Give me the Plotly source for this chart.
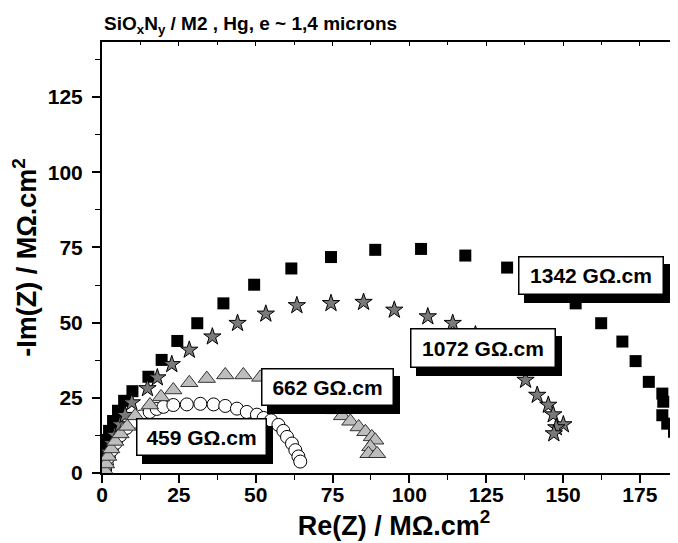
import plotly.graph_objects as go

# --- data (Re(Z), -Im(Z) in MOhm.cm2) ---
sq_x = [0.3, 0.3, 0.3, 0.65, 1.3, 2.3, 3.6, 5.2, 7.2, 9.9, 15.1, 19.4, 24.5, 31.0, 39.5,
        49.5, 61.6, 74.5, 88.9, 103.8, 118.2, 131.8, 143.5, 154.1, 162.4, 169.3, 173.6,
        177.9, 182.3, 182.6, 182.3, 183.9, 186.1]
sq_y = [1, 3, 5.3, 8, 11, 14, 17.3, 20.7, 24, 27.2, 32, 37.6, 43.9, 49.8, 56.4,
        62.6, 68, 71.8, 74.2, 74.5, 72.3, 68.3, 63, 56.4, 49.8, 43.7, 37.2,
        30.3, 26.4, 23.7, 19.2, 16.4, 13.7]

st_x = [1.0, 1.5, 2.1, 3.2, 4.2, 5.9, 7.5, 9.7, 14.8, 18.0, 22.7, 28.4, 35.9, 44.1, 53.3,
        63.4, 74.5, 85.1, 95.1, 106.0, 114.1, 121.5, 128.7, 133.6, 137.8, 141.6, 145.2,
        146.8, 150.1, 147.8, 147.0]
st_y = [2, 4.2, 7, 9.8, 12.6, 16.1, 19.2, 23.4, 28.1, 31.7, 36.1, 40.9, 45.3, 49.8, 52.9,
        55.7, 56.4, 56.8, 54.2, 52, 49.8, 46, 40.3, 36, 30.9, 25.9, 22.6,
        19.4, 16.1, 15.1, 13.1]

tr_x = [0.8, 1.3, 2.0, 3.0, 4.3, 6.0, 8.2, 10.8, 15.6, 19.2, 23.2, 28.4, 34.1, 40.1, 46.0,
        51.5, 57.0, 62.5, 67.5, 72.0, 75.5, 78.1, 80.8, 83.5, 85.7, 87.8, 88.9, 87.3,
        86.7, 89.5]
tr_y = [1, 3, 5.5, 8, 10.5, 13, 15.5, 19, 22.6, 25.3, 27.6, 30, 31.4, 32.6, 32.6,
        31.8, 30.5, 28.5, 26, 23.5, 21, 19, 17.2, 15.3, 13.7, 12, 10.9, 8.7,
        6.4, 6.4]

ci_x = [1.0, 1.5, 2.2, 3.2, 4.5, 6.0, 8.0, 10.3, 12.8, 15.5, 17.8, 20.0, 23.2, 27.6, 32.0,
        36.3, 40.1, 43.9, 47.1, 50.4, 52.6, 55.0, 57.4, 59.0, 60.2, 61.8, 62.9, 63.9, 64.5]
ci_y = [1, 3, 5.3, 7.6, 10, 12.5, 15, 17, 18.8, 20.3, 21.3, 22, 22.6, 22.8, 23,
        22.8, 22.3, 21.4, 20.3, 19.4, 18.3, 17.5, 16, 14, 12, 9.8, 7.6, 5.5, 3.8]

labels = ["1342 GΩ.cm", "1072 GΩ.cm", "662 GΩ.cm", "459 GΩ.cm"]
label_x = [159.2, 123.9, 73.5, 32.5]
label_y = [65.6, 41.6, 28.7, 11.9]
label_w = [141, 141, 128, 126]
label_h = [34, 35, 33, 33]

xticks = [0, 25, 50, 75, 100, 125, 150, 175]
yticks = [0, 25, 50, 75, 100, 125]

FONT = "Liberation Sans, Arial, sans-serif"

fig = go.Figure()
fig.add_trace(go.Scatter(x=sq_x, y=sq_y, mode="markers",
                         marker=dict(symbol="square", size=12, color="black",
                                     line=dict(width=0))))
fig.add_trace(go.Scatter(x=st_x, y=st_y, mode="markers",
                         marker=dict(symbol="star", size=13, color="#7a7a7a",
                                     line=dict(width=1, color="black"))))
fig.add_trace(go.Scatter(x=ci_x, y=ci_y, mode="markers",
                         marker=dict(symbol="circle", size=13, color="white",
                                     line=dict(width=1, color="black"))))
fig.add_trace(go.Scatter(x=tr_x, y=tr_y, mode="markers",
                         marker=dict(symbol="triangle-up", size=15, color="#bdbdbd",
                                     line=dict(width=1, color="#333333"))))
# dummy trace so the top (mirror) axis gets drawn
fig.add_trace(go.Scatter(x=[], y=[], xaxis="x2", showlegend=False))

anns = []
for t, x, y, w, h in zip(labels, label_x, label_y, label_w, label_h):
    # drop shadow first, then the white box on top
    anns.append(dict(x=x, y=y, xref="x", yref="y", text="<b>%s</b>" % t, showarrow=False,
                     font=dict(family=FONT, size=21, color="black"), bgcolor="black",
                     bordercolor="black", borderwidth=1.5, borderpad=1,
                     width=w, height=h, xshift=6, yshift=-8))
    anns.append(dict(x=x, y=y, xref="x", yref="y", text="<b>%s</b>" % t, showarrow=False,
                     font=dict(family=FONT, size=21, color="black"), bgcolor="white",
                     bordercolor="black", borderwidth=1.5, borderpad=1,
                     width=w, height=h))
anns.append(dict(x=0, y=1, xref="paper", yref="paper", xanchor="left", yanchor="bottom",
                 yshift=3, showarrow=False,
                 text="<b>SiO<sub>x</sub>N<sub>y</sub> / M2 , Hg, e ~ 1,4 microns</b>",
                 font=dict(family=FONT, size=19, color="black")))

# the page body adds an 8px offset, margins below compensate for it
fig.update_layout(
    width=678, height=543,
    margin=dict(l=94, r=0, t=34, b=78),
    paper_bgcolor="white", plot_bgcolor="white",
    showlegend=False,
    annotations=anns,
    font=dict(family=FONT, color="black"),
    xaxis=dict(range=[0, 190.0], tickvals=xticks,
               ticktext=["<b>%d</b>" % v for v in xticks], automargin=False,
               ticks="outside", ticklen=8, tickwidth=1.5, tickcolor="black",
               ticklabelstandoff=-6,
               minor=dict(dtick=12.5, ticks="outside", ticklen=5, tickwidth=1.2, tickcolor="black"),
               showline=True, linecolor="black", linewidth=2, showgrid=False, zeroline=False,
               tickfont=dict(size=21),
               title=dict(text="<b>Re(Z) / MΩ.cm<sup>2</sup></b>", font=dict(size=27), standoff=0)),
    xaxis2=dict(overlaying="x", side="top", range=[0, 190.0], dtick=25, showticklabels=False,
                ticks="inside", ticklen=4, tickwidth=1.2, tickcolor="black", automargin=False,
                minor=dict(dtick=12.5, ticks="inside", ticklen=3, tickcolor="black"),
                showline=True, linecolor="black", linewidth=2, showgrid=False, zeroline=False),
    yaxis=dict(range=[0, 143.3], tickvals=yticks,
               ticktext=["<b>%d</b>" % v for v in yticks], automargin=False,
               ticks="outside", ticklen=8, tickwidth=1.5, tickcolor="black",
               ticklabelstandoff=5,
               minor=dict(dtick=12.5, ticks="outside", ticklen=5, tickwidth=1.2, tickcolor="black"),
               showline=True, linecolor="black", linewidth=2, showgrid=False, zeroline=False,
               tickfont=dict(size=21),
               title=dict(text="<b>-Im(Z) / MΩ.cm<sup>2</sup></b>", font=dict(size=27), standoff=4)),
)

fig.write_html("out.html")
